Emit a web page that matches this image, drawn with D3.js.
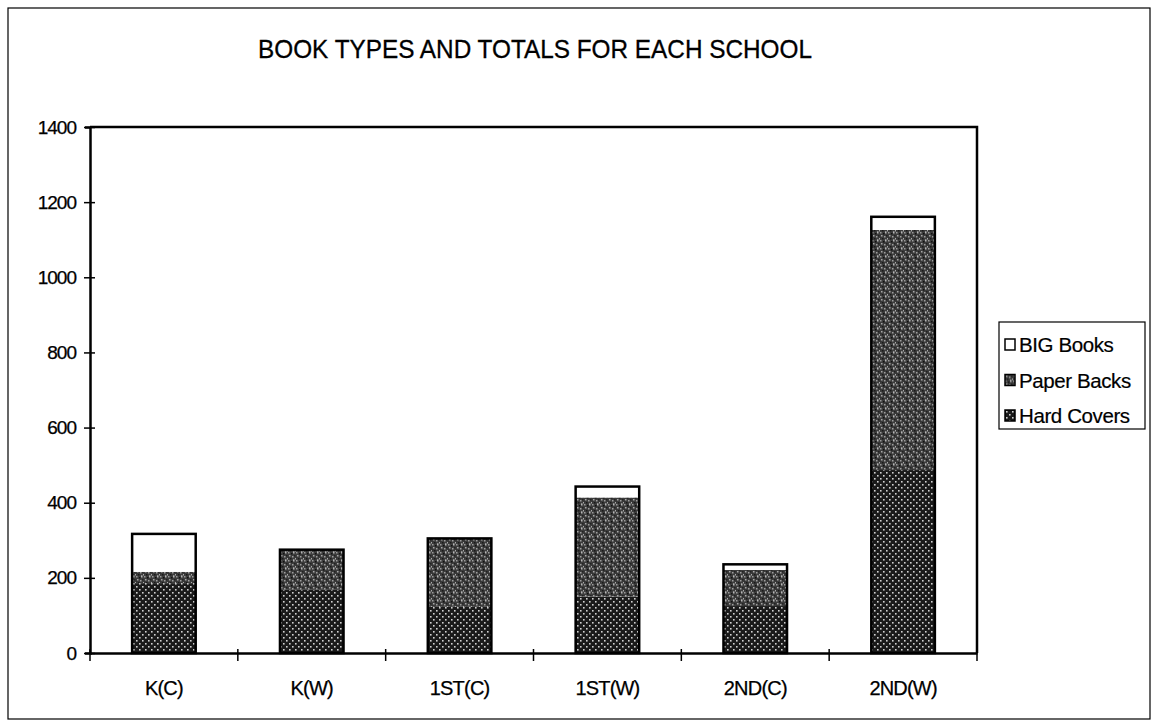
<!DOCTYPE html>
<html>
<head>
<meta charset="utf-8">
<script src="https://cdn.jsdelivr.net/npm/d3@7"></script>
<style>
  body { margin: 0; background: #ffffff; }
  text { font-family: "Liberation Sans", Arial, sans-serif; fill: #000; }
</style>
</head>
<body>
<div id="chart"></div>
<script>
// schools along the x axis
var schools = ["K(C)", "K(W)", "1ST(C)", "1ST(W)", "2ND(C)", "2ND(W)"];

// book counts per school
var hardCovers = [186, 168, 123, 150, 125, 487];
var paperBacks = [30, 107, 182, 264, 96, 639];
var bigBooks   = [101, 0, 0, 29, 15, 35];

var seriesNames = ["Hard Covers", "Paper Backs", "BIG Books"];
var yTicks = [0, 200, 400, 600, 800, 1000, 1200, 1400];

var chartTitle = "BOOK TYPES AND TOTALS FOR EACH SCHOOL";

// sizes of the page and plot frame
var outerWidth = 1156,
    outerHeight = 723,
    plot = {left: 90, top: 127, right: 977, bottom: 653};

// rows for the stack layout
var rows = schools.map(function(s, i) {
  return {school: s, "Hard Covers": hardCovers[i], "Paper Backs": paperBacks[i], "BIG Books": bigBooks[i]};
});

var stacked = d3.stack().keys(seriesNames)(rows);

var xScale = d3.scaleBand()
    .domain(schools)
    .range([plot.left, plot.right])
    .paddingInner(0.57)
    .paddingOuter(0.285);

var yScale = d3.scaleLinear()
    .domain([0, 1400])
    .range([plot.bottom, plot.top]);

var svg = d3.select("#chart")
    .append("svg")
    .attr("width", outerWidth)
    .attr("height", outerHeight);

// fill patterns that imitate the scanned halftones
var defs = svg.append("defs");

var hardPat = defs.append("pattern")
    .attr("id", "hardPat")
    .attr("patternUnits", "userSpaceOnUse")
    .attr("width", 6).attr("height", 6);
hardPat.append("rect").attr("width", 6).attr("height", 6).attr("fill", "#1a1a1a");
hardPat.append("rect").attr("x", 1).attr("y", 1).attr("width", 1.6).attr("height", 1.6).attr("fill", "#d0d0d0");
hardPat.append("rect").attr("x", 4).attr("y", 4).attr("width", 1.6).attr("height", 1.6).attr("fill", "#d0d0d0");

var paperPat = defs.append("pattern")
    .attr("id", "paperPat")
    .attr("patternUnits", "userSpaceOnUse")
    .attr("width", 8).attr("height", 8);
paperPat.append("rect").attr("width", 8).attr("height", 8).attr("fill", "#3c3c3c");
[[0, 0, "#9a9a9a"], [3, 1, "#111"], [5, 0, "#b5b5b5"], [1, 3, "#a8a8a8"], [6, 3, "#222"],
 [4, 4, "#9d9d9d"], [2, 6, "#1a1a1a"], [7, 6, "#aaaaaa"], [0, 5, "#333"], [5, 7, "#8d8d8d"]]
  .forEach(function(p) {
    paperPat.append("rect").attr("x", p[0]).attr("y", p[1])
        .attr("width", 1.5).attr("height", 1.5).attr("fill", p[2]);
  });

var fills = {"Hard Covers": "url(#hardPat)", "Paper Backs": "url(#paperPat)", "BIG Books": "#ffffff"};

// outer border of the chart
svg.append("rect")
    .attr("x", 8).attr("y", 8)
    .attr("width", 1142).attr("height", 711)
    .attr("fill", "none")
    .attr("stroke", "#000")
    .attr("stroke-width", 1.2);

// title, squeezed a little like the original
svg.append("text")
    .attr("x", 535)
    .attr("y", 58)
    .attr("text-anchor", "middle")
    .attr("font-size", 25.5)
    .attr("textLength", 554)
    .attr("lengthAdjust", "spacingAndGlyphs")
    .attr("stroke", "#000")
    .attr("stroke-width", 0.3)
    .text(chartTitle);

// bars, one group per series
var layers = svg.append("g")
  .selectAll("g")
  .data(stacked)
  .enter().append("g")
    .attr("fill", function(d) { return fills[d.key]; });

layers.selectAll("rect")
  .data(function(d) { return d.filter(function(v) { return v[1] - v[0] > 0; }); })
  .enter().append("rect")
    .attr("x", function(d) { return xScale(d.data.school); })
    .attr("y", function(d) { return yScale(d[1]); })
    .attr("width", xScale.bandwidth())
    .attr("height", function(d) { return yScale(d[0]) - yScale(d[1]); });

// black outline round each full bar
svg.append("g")
  .selectAll("rect")
  .data(rows)
  .enter().append("rect")
    .attr("x", function(d) { return xScale(d.school); })
    .attr("y", function(d) { return yScale(d["Hard Covers"] + d["Paper Backs"] + d["BIG Books"]); })
    .attr("width", xScale.bandwidth())
    .attr("height", function(d) { return plot.bottom - yScale(d["Hard Covers"] + d["Paper Backs"] + d["BIG Books"]); })
    .attr("fill", "none")
    .attr("stroke", "#000")
    .attr("stroke-width", 2.5);

// plot frame top and right
svg.append("path")
    .attr("d", "M" + plot.left + "," + plot.top + "H" + plot.right + "V" + plot.bottom)
    .attr("fill", "none")
    .attr("stroke", "#000")
    .attr("stroke-width", 2.5);

// y axis with crossing ticks
var yAxis = d3.axisLeft(yScale)
    .tickValues(yTicks)
    .tickFormat(d3.format("d"))
    .tickSize(5)
    .tickPadding(10);

var yG = svg.append("g")
    .attr("transform", "translate(" + plot.left + ",0)")
    .call(yAxis);
yG.select(".domain").attr("stroke-width", 2.5);
yG.selectAll(".tick line").attr("x2", 5).attr("x1", -6).attr("stroke-width", 1.5);
yG.selectAll(".tick text")
    .attr("font-size", 19)
    .attr("letter-spacing", -1)
    .attr("x", -14)
    .attr("stroke", "#000")
    .attr("stroke-width", 0.25)
    .style("font-family", "'Liberation Sans', Arial, sans-serif");

// x axis: ticks sit between the categories
var xAxis = d3.axisBottom(xScale)
    .tickSize(0)
    .tickPadding(28);

var xG = svg.append("g")
    .attr("transform", "translate(0," + plot.bottom + ")")
    .call(xAxis);
xG.select(".domain").attr("stroke-width", 2.5);
xG.selectAll(".tick text")
    .attr("font-size", 20)
    .attr("letter-spacing", -0.8)
    .attr("stroke", "#000")
    .attr("stroke-width", 0.25)
    .style("font-family", "'Liberation Sans', Arial, sans-serif");

var step = xScale.step();
var boundaries = d3.range(schools.length + 1).map(function(i) { return plot.left + i * step; });
xG.selectAll(".boundary")
  .data(boundaries)
  .enter().append("line")
    .attr("class", "boundary")
    .attr("x1", function(d) { return d; })
    .attr("x2", function(d) { return d; })
    .attr("y1", -4)
    .attr("y2", 8)
    .attr("stroke", "#000")
    .attr("stroke-width", 1.5);

// legend
var legend = svg.append("g")
    .attr("transform", "translate(999,322)");

legend.append("rect")
    .attr("width", 146)
    .attr("height", 107)
    .attr("fill", "#fff")
    .attr("stroke", "#000")
    .attr("stroke-width", 1.2);

var legendItems = legend.selectAll(".item")
  .data(seriesNames.slice().reverse())
  .enter().append("g")
    .attr("class", "item")
    .attr("transform", function(d, i) { return "translate(6," + (23 + i * 35.5) + ")"; });

legendItems.append("rect")
    .attr("x", 0)
    .attr("y", -6)
    .attr("width", 10)
    .attr("height", 11)
    .attr("fill", function(d) { return fills[d]; })
    .attr("stroke", "#000")
    .attr("stroke-width", 1.5);

legendItems.append("text")
    .attr("x", 14)
    .attr("y", 7)
    .attr("font-size", 20.5)
    .attr("letter-spacing", -0.4)
    .attr("stroke", "#000")
    .attr("stroke-width", 0.2)
    .text(function(d) { return d; });
</script>
</body>
</html>
